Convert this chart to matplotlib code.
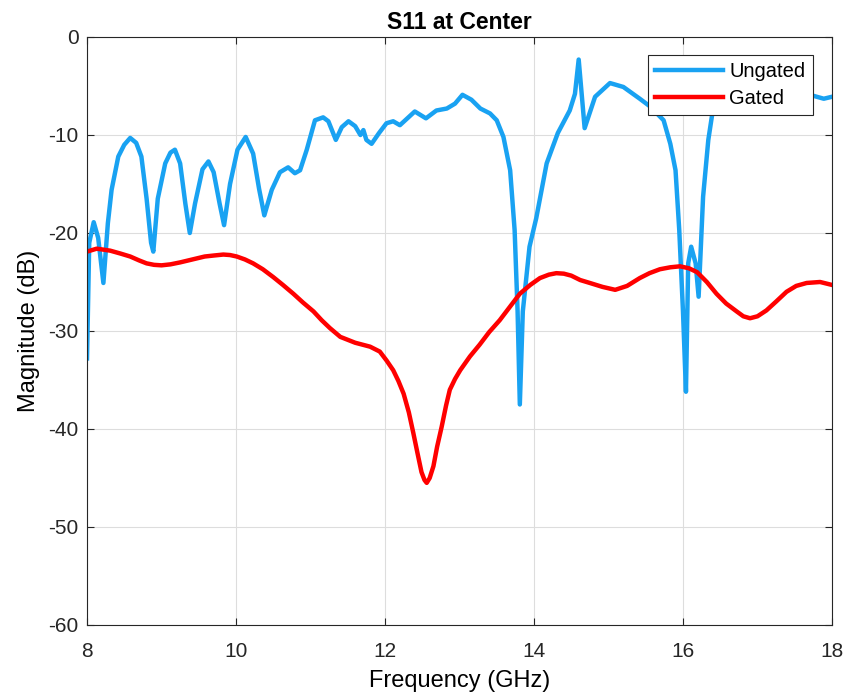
import matplotlib.pyplot as plt

plt.rcParams['font.family'] = ['Liberation Sans', 'DejaVu Sans']
plt.rcParams['axes.unicode_minus'] = False

# S11 magnitude, ungated response (GHz, dB)
f_ungated = [8.00, 8.03, 8.09, 8.15, 8.22, 8.28, 8.33, 8.42, 8.50, 8.58, 8.66, 8.73, 8.80,
             8.86, 8.89, 8.95, 9.05, 9.12, 9.18, 9.25, 9.32, 9.38, 9.45, 9.55, 9.63, 9.70,
             9.78, 9.84, 9.92, 10.02, 10.13, 10.23, 10.31, 10.38, 10.48, 10.59, 10.70,
             10.79, 10.86, 10.95, 11.06, 11.17, 11.24, 11.34, 11.42, 11.51, 11.60, 11.67,
             11.71, 11.75, 11.82, 11.92, 12.02, 12.11, 12.20, 12.30, 12.40, 12.55, 12.69,
             12.83, 12.94, 13.04, 13.16, 13.28, 13.41, 13.50, 13.59, 13.68, 13.74, 13.78,
             13.81, 13.85, 13.94, 14.03, 14.17, 14.32, 14.48, 14.55, 14.60, 14.68, 14.82,
             15.02, 15.20, 15.42, 15.56, 15.74, 15.83, 15.90, 15.95, 16.00, 16.04, 16.07,
             16.11, 16.17, 16.21, 16.27, 16.34, 16.40, 16.55, 16.80, 17.10, 17.40, 17.75,
             17.89, 18.00]
s11_ungated = [-32.8, -21.0, -18.9, -20.5, -25.1, -19.0, -15.6, -12.2, -11.0, -10.3, -10.8,
               -12.2, -16.5, -21.0, -21.9, -16.5, -12.9, -11.8, -11.5, -12.9, -17.0, -20.0,
               -17.0, -13.5, -12.7, -13.8, -17.0, -19.2, -15.0, -11.5, -10.2, -11.9, -15.5,
               -18.2, -15.6, -13.8, -13.3, -13.9, -13.6, -11.5, -8.5, -8.2, -8.6, -10.5,
               -9.2, -8.6, -9.1, -10.0, -9.5, -10.5, -10.9, -9.8, -8.8, -8.6, -9.0, -8.3,
               -7.6, -8.3, -7.5, -7.3, -6.8, -5.9, -6.4, -7.3, -7.8, -8.5, -10.2, -13.6,
               -19.7, -28.0, -37.5, -28.0, -21.4, -18.5, -12.9, -9.8, -7.5, -5.8, -2.3,
               -9.3, -6.1, -4.7, -5.1, -6.3, -7.1, -8.5, -10.9, -13.6, -19.7, -28.0, -36.2,
               -23.1, -21.4, -23.1, -26.5, -16.3, -10.5, -7.5, -6.2, -6.4, -6.2, -6.0, -6.0,
               -6.3, -6.1]

# S11 magnitude, time-gated response
f_gated = [8.00, 8.13, 8.31, 8.45, 8.58, 8.70, 8.80, 8.90, 9.00, 9.12, 9.25, 9.36, 9.47,
           9.58, 9.70, 9.83, 9.92, 10.01, 10.12, 10.23, 10.36, 10.50, 10.63, 10.77, 10.90,
           11.04, 11.15, 11.26, 11.40, 11.60, 11.80, 11.93, 12.02, 12.11, 12.18, 12.25,
           12.32, 12.38, 12.44, 12.49, 12.53, 12.56, 12.60, 12.65, 12.70, 12.76, 12.82,
           12.87, 12.94, 13.01, 13.14, 13.27, 13.40, 13.54, 13.68, 13.81, 13.95, 14.08,
           14.20, 14.30, 14.40, 14.50, 14.62, 14.75, 14.92, 15.09, 15.25, 15.42, 15.55,
           15.69, 15.83, 15.96, 16.08, 16.19, 16.32, 16.45, 16.58, 16.72, 16.81, 16.90,
           17.00, 17.12, 17.25, 17.39, 17.52, 17.66, 17.84, 18.00]
s11_gated = [-21.9, -21.6, -21.8, -22.1, -22.4, -22.8, -23.1, -23.25, -23.3, -23.2, -23.0,
             -22.8, -22.6, -22.4, -22.3, -22.2, -22.25, -22.4, -22.7, -23.1, -23.7, -24.5,
             -25.3, -26.2, -27.1, -28.0, -28.9, -29.7, -30.6, -31.2, -31.6, -32.1, -33.0,
             -34.0, -35.1, -36.4, -38.3, -40.4, -42.6, -44.4, -45.2, -45.5, -45.0, -43.8,
             -41.8, -39.8, -37.6, -36.0, -34.9, -34.0, -32.6, -31.4, -30.1, -28.9, -27.5,
             -26.2, -25.3, -24.6, -24.25, -24.1, -24.15, -24.35, -24.8, -25.1, -25.5, -25.8,
             -25.4, -24.6, -24.1, -23.7, -23.5, -23.4, -23.6, -24.0, -25.0, -26.2, -27.2,
             -28.0, -28.5, -28.7, -28.5, -27.9, -27.0, -26.0, -25.4, -25.1, -25.0, -25.3]

fig = plt.figure(figsize=(8.48, 6.98), dpi=100)
ax = fig.add_axes([0.1026, 0.1046, 0.8785, 0.8424])

ax.plot(f_ungated, s11_ungated, color='#19A2F2', lw=3.2, label='Ungated',
        solid_joinstyle='round')
ax.plot(f_gated, s11_gated, color='#FF0000', lw=3.2, label='Gated',
        solid_joinstyle='round')

ax.set_xlim(8, 18)
ax.set_ylim(-60, 0)
ax.set_xticks(range(8, 19, 2))
ax.set_yticks(range(-60, 1, 10))
ax.grid(True, color='#DDDDDD', lw=0.8)
ax.set_axisbelow(True)
ax.tick_params(direction='in', length=5, labelsize=15, colors='#262626',
               top=True, right=True)
ax.tick_params(axis='x', pad=12)
ax.tick_params(axis='y', pad=6)
for sp in ax.spines.values():
    sp.set_color('#262626')
    sp.set_linewidth(0.8)

ax.set_title('S11 at Center', fontsize=16.5, fontweight='bold', pad=6)
ax.set_xlabel('Frequency (GHz)', fontsize=17, labelpad=7)
ax.set_ylabel('Magnitude (dB)', fontsize=17, labelpad=6)

leg = ax.legend(loc='upper right', bbox_to_anchor=(0.974, 0.969), borderaxespad=0,
                fontsize=14.5, fancybox=False, framealpha=1, edgecolor='#262626',
                handlelength=3.4, handletextpad=0.3, borderpad=0.35,
                labelspacing=0.4)
leg.get_frame().set_linewidth(0.8)

fig.savefig('out.png', dpi=100)
